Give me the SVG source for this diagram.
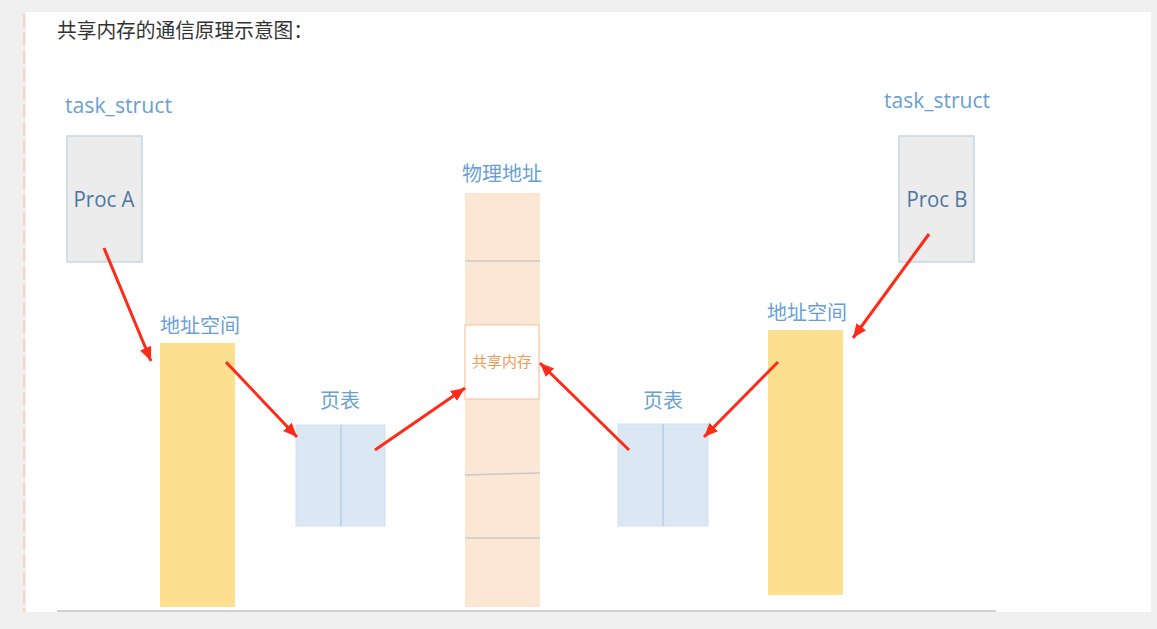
<svg xmlns="http://www.w3.org/2000/svg" width="1157" height="629" viewBox="0 0 1157 629">
<style>
.lbl{font-family:"Noto Sans CJK SC","Noto Sans",sans-serif;fill:#6a9fd4}
.en{font-family:"Open Sans","Noto Sans",sans-serif;fill:#6a9fd4}
.proc{fill:#ececec;stroke:#c9d6e4;stroke-width:1.5}
.ptxt{font-family:"Open Sans","Noto Sans",sans-serif;font-size:22px;fill:#4f76a0;text-anchor:middle}
.addr{fill:#fde08f}
.pt{fill:#dbe8f4;stroke:#d0e0f0;stroke-width:1}
.div{stroke:#a9c7e6;stroke-width:1.2}
.phys{fill:#fce6d4}
.sep{stroke:#c8c8c8;stroke-width:1.5}
.arrow{stroke:#ff2a17;stroke-width:3;fill:none;marker-end:url(#ah)}
</style>
<defs>
<marker id="ah" markerUnits="userSpaceOnUse" markerWidth="16" markerHeight="14" refX="14" refY="6" orient="auto">
<path d="M0,0 L14,6 L0,12 Z" fill="#ff2a17"/>
</marker>
</defs>
<rect x="0" y="0" width="1157" height="629" fill="#f0f0f0"/>
<rect x="26" y="12" width="1125" height="600" fill="#ffffff"/>
<line x1="24" y1="14" x2="24" y2="612" stroke="#f7d5c4" stroke-width="2" stroke-dasharray="14 4"/>
<line x1="57" y1="611" x2="996" y2="611" stroke="#d0d0d0" stroke-width="2"/>
<text x="57" y="38" font-family="Noto Sans CJK SC,sans-serif" font-size="20" fill="#333333" textLength="256" lengthAdjust="spacingAndGlyphs">共享内存的通信原理示意图：</text>

<g id="procA">
<text class="en" x="65" y="113" font-size="22" textLength="107" lengthAdjust="spacingAndGlyphs">task_struct</text>
<rect class="proc" x="67" y="136" width="75" height="126"/>
<text class="ptxt" x="104" y="207" textLength="61" lengthAdjust="spacingAndGlyphs">Proc A</text>
</g>
<g id="procB">
<text class="en" x="884" y="108" font-size="22" textLength="106" lengthAdjust="spacingAndGlyphs">task_struct</text>
<rect class="proc" x="899" y="136" width="75" height="126"/>
<text class="ptxt" x="937" y="207" textLength="61" lengthAdjust="spacingAndGlyphs">Proc B</text>
</g>
<g id="addrA">
<text class="lbl" x="160" y="333" font-size="20">地址空间</text>
<rect class="addr" x="160" y="343" width="75" height="264"/>
</g>
<g id="addrB">
<text class="lbl" x="767" y="320" font-size="20">地址空间</text>
<rect class="addr" x="768" y="330" width="75" height="265"/>
</g>
<g id="ptA">
<text class="lbl" x="340" y="408" font-size="20" text-anchor="middle">页表</text>
<rect class="pt" x="296" y="425" width="89" height="101"/>
<line class="div" x1="341" y1="425" x2="341" y2="526"/>
</g>
<g id="ptB">
<text class="lbl" x="663" y="408" font-size="20" text-anchor="middle">页表</text>
<rect class="pt" x="618" y="424" width="90" height="102"/>
<line class="div" x1="663" y1="424" x2="663" y2="526"/>
</g>
<g id="phys">
<text class="lbl" x="502" y="181" font-size="20" text-anchor="middle">物理地址</text>
<rect class="phys" x="465" y="193" width="75" height="414"/>
<line class="sep" x1="465" y1="261" x2="540" y2="261"/>
<line class="sep" x1="465" y1="475" x2="540" y2="473"/>
<line class="sep" x1="465" y1="538" x2="540" y2="538"/>
</g>
<g id="shm">
<rect x="465" y="325" width="74" height="74" fill="#ffffff" stroke="#f5caa8" stroke-width="1.2"/>
<text x="502" y="367" font-family="Noto Sans CJK SC,sans-serif" font-size="15" fill="#ef9a55" text-anchor="middle">共享内存</text>
</g>
<g id="connectors">
<line class="arrow" x1="104" y1="248" x2="151" y2="361"/>
<line class="arrow" x1="226" y1="362" x2="297" y2="437"/>
<line class="arrow" x1="375" y1="450" x2="465" y2="388"/>
<line class="arrow" x1="629" y1="450" x2="540" y2="363"/>
<line class="arrow" x1="778" y1="362" x2="704" y2="437"/>
<line class="arrow" x1="929" y1="234" x2="853" y2="338"/>
</g>
</svg>
